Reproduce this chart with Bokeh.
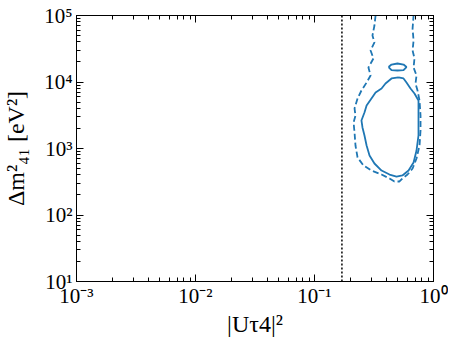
from bokeh.plotting import figure
from bokeh.models import LogAxis, FixedTicker, Span, CustomJSTickFormatter
from bokeh.embed import file_html
from bokeh.resources import INLINE

# ---- data ----
x_major = [1e-3, 1e-2, 1e-1, 1.0]
x_tick_labels = ["10⁻³", "10⁻²", "10⁻¹", "10⁰"]
y_major = [1e1, 1e2, 1e3, 1e4, 1e5]
y_tick_labels = ["10¹", "10²", "10³", "10⁴", "10⁵"]

tau_bound = 0.17  # vertical dotted limit on |U_tau4|^2

# dashed contour (open at the top)
dash_x = [0.326, 0.319, 0.307, 0.319, 0.296, 0.313, 0.284, 0.296, 0.274, 0.248,
          0.230, 0.217, 0.221, 0.213, 0.217, 0.221, 0.230, 0.258, 0.301, 0.366,
          0.427, 0.470, 0.518, 0.548, 0.605, 0.667, 0.720, 0.763, 0.778, 0.778,
          0.763, 0.734, 0.706, 0.720, 0.680, 0.692, 0.667, 0.680, 0.667, 0.680]
dash_y = [100000, 70700, 50000, 39300, 29800, 22600, 16500, 12500, 9820, 7450,
          5650, 4000, 3130, 2460, 1740, 1110, 733, 555, 466, 406,
          354, 319, 319, 354, 406, 500, 708, 1110, 1870, 3130,
          5270, 7450, 9490, 12500, 16500, 22600, 29800, 42100, 63800, 100000]

# solid closed contour
solid_x = [0.508, 0.444, 0.395, 0.366, 0.326, 0.301, 0.274, 0.263, 0.248, 0.253,
           0.263, 0.274, 0.290, 0.319, 0.366, 0.427, 0.489, 0.548, 0.617, 0.680,
           0.720, 0.748, 0.748, 0.748, 0.692, 0.641, 0.593, 0.560, 0.508]
solid_y = [11700, 11300, 9490, 7980, 6950, 5650, 4430, 3480, 2640, 2070,
           1570, 1110, 785, 595, 466, 406, 379, 393, 466, 616,
           933, 1570, 3130, 5270, 6720, 7980, 9820, 11300, 11700]

# small solid island
island_x = [0.419, 0.444, 0.498, 0.560, 0.593, 0.560, 0.498, 0.444, 0.419]
island_y = [16800, 18300, 18970, 18300, 16800, 15100, 14900, 15100, 16800]

blue = "#1f77b4"
FONT = "Liberation Serif"

p = figure(x_axis_type="log", y_axis_type="log",
           x_range=(1e-3, 1.0), y_range=(10, 1e5),
           output_backend="svg", toolbar_location=None,
           frame_width=357, frame_height=266,
           min_border_left=75, min_border_right=15, min_border_top=15, min_border_bottom=52)
p.grid.visible = False
p.outline_line_color = "black"
p.outline_line_width = 1
p.background_fill_color = "white"
p.border_fill_color = "white"

x_minor = [k * m for m in [1e-3, 1e-2, 1e-1] for k in range(2, 10)]
y_minor = [k * m for m in [1e1, 1e2, 1e3, 1e4] for k in range(2, 10)]
xt = FixedTicker(ticks=x_major, minor_ticks=x_minor)
yt = FixedTicker(ticks=y_major, minor_ticks=y_minor)

fmt_code = """
for (let i = 0; i < tvals.length; i++) {
  if (Math.abs(Math.log10(tick) - Math.log10(tvals[i])) < 1e-6) return tlabels[i];
}
return String(tick);
"""
xfmt = CustomJSTickFormatter(args=dict(tvals=x_major, tlabels=x_tick_labels), code=fmt_code)
yfmt = CustomJSTickFormatter(args=dict(tvals=y_major, tlabels=y_tick_labels), code=fmt_code)

def style(ax):
    ax.major_tick_in = 7
    ax.major_tick_out = 0
    ax.minor_tick_in = 4
    ax.minor_tick_out = 0
    ax.axis_line_color = "black"
    ax.major_tick_line_color = "black"
    ax.minor_tick_line_color = "black"
    ax.major_label_text_font = FONT
    ax.major_label_text_font_size = "21px"
    ax.major_label_text_color = "black"
    ax.axis_label_text_font = FONT
    ax.axis_label_text_font_size = "24px"
    ax.axis_label_text_font_style = "normal"
    ax.axis_label_text_color = "black"

xa = p.xaxis[0]
ya = p.yaxis[0]
xa.ticker = xt
ya.ticker = yt
xa.formatter = xfmt
ya.formatter = yfmt
style(xa)
style(ya)
xa.axis_label = "|Uτ4|²"
ya.axis_label = "Δm²₄₁ [eV²]"
xa.major_label_standoff = 2
ya.major_label_standoff = 4
xa.axis_label_standoff = 0
ya.axis_label_standoff = 12

top = LogAxis(ticker=xt, major_label_standoff=0)
right = LogAxis(ticker=yt, major_label_standoff=0)
style(top)
style(right)
top.major_label_text_font_size = "1px"
right.major_label_text_font_size = "1px"
top.major_label_text_color = None
right.major_label_text_color = None
p.add_layout(top, "above")
p.add_layout(right, "right")

p.add_layout(Span(location=tau_bound, dimension="height", line_color="black",
                  line_dash="2 2", line_width=1.5))

p.line(dash_x, dash_y, line_color=blue, line_width=1.8, line_dash="6 3")
p.line(solid_x, solid_y, line_color=blue, line_width=1.8)
p.line(island_x, island_y, line_color=blue, line_width=1.8)

open("out.html", "w").write(file_html(p, INLINE))
